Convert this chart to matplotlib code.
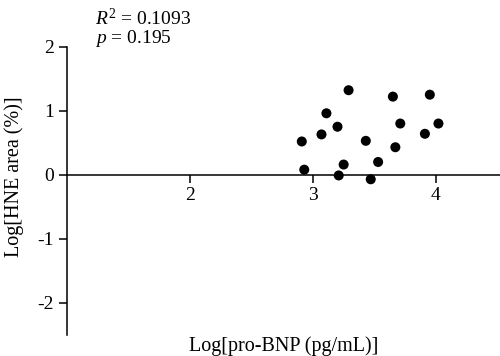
import matplotlib
matplotlib.use("Agg")
import matplotlib.pyplot as plt

plt.rcParams["font.family"] = "Liberation Serif"
plt.rcParams["mathtext.fontset"] = "custom"
plt.rcParams["mathtext.rm"] = "Liberation Serif"
plt.rcParams["mathtext.it"] = "Liberation Serif:italic"
plt.rcParams["axes.unicode_minus"] = False

# data
log_probnp = [2.91, 2.93, 3.07, 3.11, 3.20, 3.29, 3.25, 3.21, 3.43,
              3.47, 3.53, 3.65, 3.71, 3.67, 3.95, 3.91, 4.02]
log_hne = [0.52, 0.08, 0.63, 0.96, 0.75, 1.32, 0.16, -0.01, 0.53,
           -0.07, 0.20, 1.22, 0.80, 0.43, 1.25, 0.64, 0.80]
x_ticks = [2, 3, 4]
y_ticks = [-2, -1, 0, 1, 2]
r2_text = "$R^2$ = 0.1093"
p_text = "$p$ = 0.195"

fig = plt.figure(figsize=(5.0, 3.56), dpi=100)
ax = fig.add_axes([0.1333, 0.059, 0.8667, 0.810])

ax.scatter(log_probnp, log_hne, s=52, color="black", edgecolors="none", zorder=3)

ax.set_xlim(1, 4.52)
ax.set_ylim(-2.5, 2)
ax.set_xticks(x_ticks)
ax.set_yticks(y_ticks)

ax.spines[["top", "right"]].set_visible(False)
ax.spines["bottom"].set_position(("data", 0))
for sp in ["left", "bottom"]:
    ax.spines[sp].set_linewidth(1.1)
ax.tick_params(direction="out", length=6, width=1.1, labelsize=14, pad=3)

ax.set_xlabel("Log[pro-BNP (pg/mL)]", fontsize=14.5)
ax.set_ylabel("Log[HNE area (%)]", fontsize=14.5)
ax.xaxis.set_label_coords(0.5, -0.005)
ax.yaxis.set_label_coords(-0.098, 0.55)

fig.text(0.19, 0.93, r2_text, fontsize=14, va="baseline")
fig.text(0.19, 0.88, p_text, fontsize=14, va="baseline")

fig.savefig("out.png", dpi=100)
